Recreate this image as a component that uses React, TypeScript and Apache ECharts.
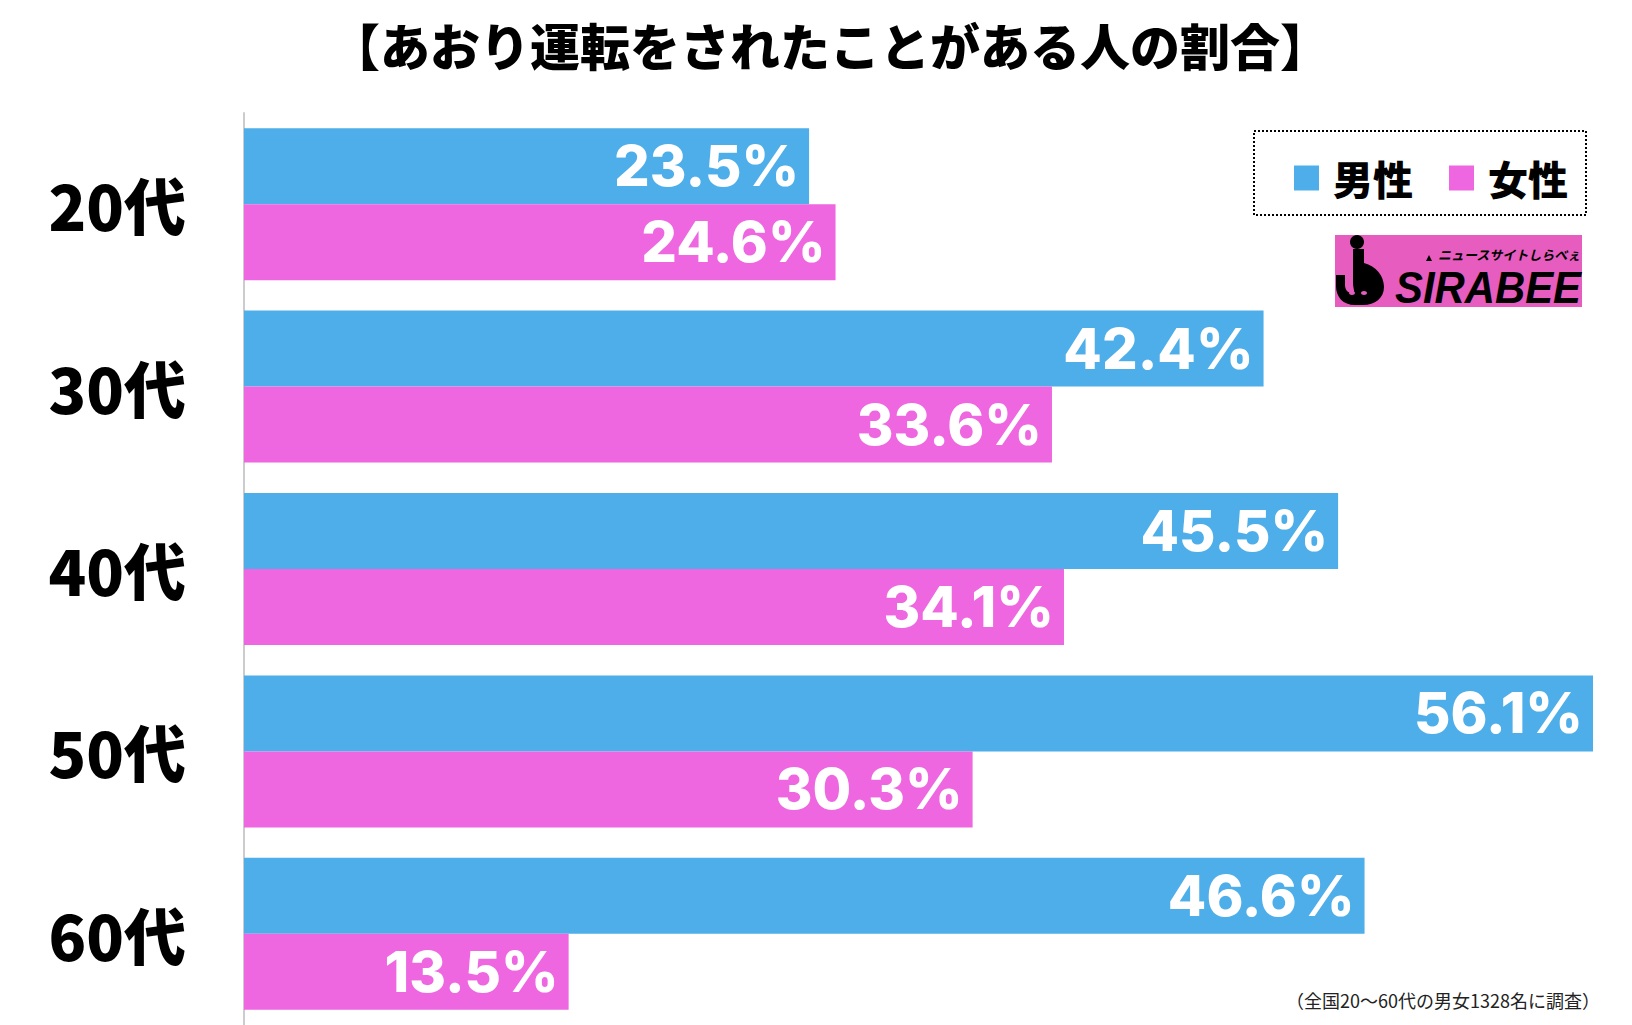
import React, { useEffect, useRef } from "react";
import * as echarts from "echarts";

const categories = ["20代", "30代", "40代", "50代", "60代"];
const seriesNames = ["男性", "女性"];
const maleValues = [23.5, 42.4, 45.5, 56.1, 46.6];
const femaleValues = [24.6, 33.6, 34.1, 30.3, 13.5];
const titleText = "【あおり運転をされたことがある人の割合】";
const noteText = "（全国20～60代の男女1328名に調査）";

const BLUE = "#4DAEE9";
const PINK = "#EE66E0";

const hookPath =
  "M 17 0 L 28 0 L 28 14 C 40 17 48 27 48 38 C 48 49 39 56 27 56 L 19 56 C 7 56 0 48 0 37 L 0 26 L 9 26 L 9 36 C 9 41 12 44 16 44 C 20 44 17 40 17 34 Z";
let registered = false;
function ensureShape() {
  if (registered) return;
  echarts.graphic.registerShape("sirabeeHook", echarts.graphic.extendPath(hookPath, {}) as any);
  registered = true;
}

export default function App() {
  const ref = useRef<HTMLDivElement>(null);
  useEffect(() => {
    if (!ref.current) return;
    ensureShape();
    const chart = echarts.init(ref.current, undefined, { renderer: "svg" });
    const labelCfg = {
      show: true,
      position: "insideRight",
      distance: 10,
      color: "#fff",
      fontSize: 56,
      fontWeight: 800,
      fontFamily: "Inter",
      formatter: (p: any) => Number(p.value).toFixed(1) + "%",
    };
    chart.setOption({
      animation: false,
      backgroundColor: "#fff",
      grid: { left: 244, right: 39, top: 113, bottom: 0, containLabel: false },
      legend: {
        data: seriesNames,
        icon: "rect",
        itemWidth: 25,
        itemHeight: 25,
        itemGap: 36,
        left: 1289,
        top: 153,
        textStyle: {
          fontSize: 40,
          fontWeight: 900,
          color: "#000",
          fontFamily: "Noto Sans CJK JP",
          padding: [0, 0, 0, 9],
        },
      },
      xAxis: {
        type: "value",
        min: 0,
        max: 56.1,
        show: false,
        splitLine: { show: false },
      },
      yAxis: {
        type: "category",
        data: categories,
        inverse: true,
        axisLine: { show: true, lineStyle: { color: "#cccccc", width: 2 } },
        axisTick: { show: false },
        axisLabel: {
          margin: 58,
          fontSize: 62,
          fontWeight: 900,
          color: "#000",
          fontFamily: "Noto Sans CJK JP",
        },
      },
      series: [
        {
          name: seriesNames[0],
          type: "bar",
          data: maleValues,
          barWidth: 76,
          barGap: "0%",
          itemStyle: { color: BLUE },
          label: labelCfg,
        },
        {
          name: seriesNames[1],
          type: "bar",
          data: femaleValues,
          barWidth: 76,
          barGap: "0%",
          itemStyle: { color: PINK },
          label: labelCfg,
        },
      ],
      graphic: [
        {
          type: "text",
          x: 830,
          y: 44,
          style: {
            text: titleText,
            fontSize: 50,
            fontWeight: 900,
            fontFamily: "Noto Sans CJK JP",
            fill: "#000",
            align: "center",
            verticalAlign: "middle",
          },
        },
        {
          type: "rect",
          shape: { x: 1254, y: 131, width: 332, height: 84 },
          style: { fill: "none", stroke: "#000", lineWidth: 2, lineDash: [2, 2] },
        },
        {
          type: "group",
          x: 1335,
          y: 235,
          children: [
            { type: "rect", shape: { x: 0, y: 0, width: 247, height: 72 }, style: { fill: "#E65CBF" } },
            { type: "circle", shape: { cx: 22, cy: 7, r: 7 }, style: { fill: "#000" } },
            { type: "sirabeeHook", x: 1, y: 14, style: { fill: "#000" } },
            { type: "ellipse", shape: { cx: 17, cy: 58, rx: 3, ry: 2 }, style: { fill: "#E65CBF" } },
            { type: "ellipse", shape: { cx: 29, cy: 58, rx: 3, ry: 2 }, style: { fill: "#E65CBF" } },
            {
              type: "polygon",
              shape: { points: [[91, 26], [94, 20], [97, 26]] },
              style: { fill: "#000" },
            },
            {
              type: "text",
              x: 103,
              y: 13,
              style: {
                text: "ニュースサイトしらべぇ",
                fontSize: 13,
                fontWeight: "bold",
                fontStyle: "italic",
                fontFamily: "Noto Sans CJK JP",
                fill: "#000",
              },
            },
            {
              type: "text",
              x: 60,
              y: 52,
              scaleX: 0.93,
              style: {
                text: "SIRABEE",
                fontSize: 45,
                fontWeight: 900,
                fontStyle: "italic",
                fontFamily: "Liberation Sans",
                fill: "#000",
                verticalAlign: "middle",
              },
            },
          ],
        },
        {
          type: "text",
          x: 1600,
          y: 1000,
          style: {
            text: noteText,
            fontSize: 18,
            fontFamily: "Noto Sans CJK JP",
            fill: "#222",
            align: "right",
            verticalAlign: "middle",
          },
        },
      ],
    });
    return () => chart.dispose();
  }, []);
  return (
    <div
      ref={ref}
      style={{ position: "fixed", left: 0, top: 0, width: 1632, height: 1025 }}
    />
  );
}
